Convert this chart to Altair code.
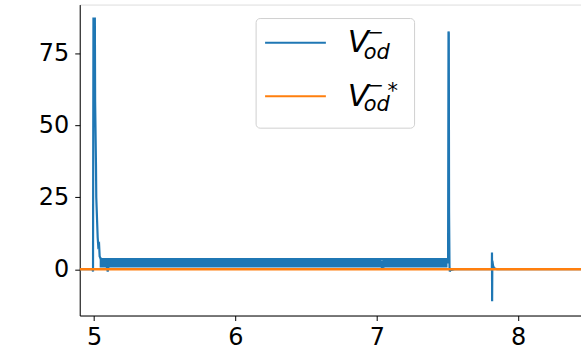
import altair as alt
import pandas as pd

# ---- data ----
blue_x = [4.899, 4.990, 4.993, 4.996, 5.006, 5.008, 5.014, 5.016, 5.026, 5.030,
          5.036, 5.040, 5.050, 5.055, 5.060, 5.070, 5.080, 5.090, 5.097, 5.105,
          5.110, 7.500, 7.504, 7.507, 7.509, 7.511, 7.514, 7.516, 7.520, 7.550,
          7.800, 7.8135, 7.8145, 7.8155, 7.817, 7.822, 7.830, 7.850, 8.450]
blue_y = [0.0, 0.0, -0.8, 87.0, 87.0, 58.0, 36.0, 25.0, 11.0, 8.0,
          8.5, 4.4, 3.5, 1.0, 3.2, 1.2, 3.4, 1.0, -0.8, 2.0,
          3.5, 3.5, 2.0, 82.5, 82.0, 20.0, 1.0, -0.8, -0.3, 0.0,
          0.0, 0.0, 5.8, -11.1, 3.0, 1.2, 0.3, 0.0, 0.0]

# dense oscillation band (envelope) of the blue series
band_x = [5.040, 7.025, 7.035, 7.045, 7.060, 7.500]
band_lo = [0.6, 0.6, 0.3, 0.4, 0.6, 0.6]
band_hi = [3.9, 3.9, 2.9, 3.3, 3.9, 3.9]

orange_x = [4.899, 8.450]
orange_y = [0.0, 0.0]

x_ticks = [5, 6, 7, 8]
y_ticks = [0, 25, 50, 75]
x_domain = [4.899, 8.444]
y_domain = [-16.08, 91.84]

BLUE = "#1f77b4"
ORANGE = "#ff7f0e"
FONT = "DejaVu Sans"

blue_df = pd.DataFrame({"x": blue_x, "y": blue_y})
band_df = pd.DataFrame({"x": band_x, "lo": band_lo, "hi": band_hi})
orange_df = pd.DataFrame({"x": orange_x, "y": orange_y})

xs = alt.Scale(domain=x_domain, nice=False, zero=False)
ys = alt.Scale(domain=y_domain, nice=False, zero=False)

x_axis = alt.Axis(values=x_ticks, format="d", grid=False, labelFontSize=24, labelFont=FONT,
                  labelColor="black", tickColor="black", domainColor="black",
                  tickSize=5, labelPadding=5, title=None, labelFlush=False)
y_axis = alt.Axis(values=y_ticks, format="d", grid=False, labelFontSize=24, labelFont=FONT,
                  labelColor="black", tickColor="black", domainColor="black",
                  tickSize=5, labelPadding=6, title=None, labelFlush=False)

band = alt.Chart(band_df).mark_area(color=BLUE, clip=True, opacity=1).encode(
    x=alt.X("x:Q", scale=xs, axis=x_axis),
    y=alt.Y("lo:Q", scale=ys, axis=y_axis),
    y2="hi:Q",
)

blue = alt.Chart(blue_df).mark_line(color=BLUE, strokeWidth=2.2, clip=True).encode(
    x=alt.X("x:Q", scale=xs),
    y=alt.Y("y:Q", scale=ys),
    order=alt.Order("x:Q"),
)

orange = alt.Chart(orange_df).mark_line(color=ORANGE, strokeWidth=2.4, clip=True).encode(
    x=alt.X("x:Q", scale=xs),
    y=alt.Y("y:Q", scale=ys),
)

# ---- legend ----
leg_box = alt.Chart(pd.DataFrame({"a": [0]})).mark_rect(
    fill="white", fillOpacity=0.8, stroke="#d0d0d0", strokeWidth=1, cornerRadius=4
).encode(x=alt.value(177), x2=alt.value(336), y=alt.value(14), y2=alt.value(124))

leg_blue = alt.Chart(pd.DataFrame({"a": [0]})).mark_rule(color=BLUE, strokeWidth=2.2).encode(
    x=alt.value(186), x2=alt.value(247), y=alt.value(38.3))
leg_orange = alt.Chart(pd.DataFrame({"a": [0]})).mark_rule(color=ORANGE, strokeWidth=2.2).encode(
    x=alt.value(186), x2=alt.value(247), y=alt.value(92))

def txt(s, x, y, size, baseline="alphabetic", align="left", italic=True):
    kw = dict(font=FONT, fontSize=size, color="black", align=align, baseline=baseline)
    if italic:
        kw["fontStyle"] = "italic"
    return alt.Chart(pd.DataFrame({"t": [s]})).mark_text(**kw).encode(
        text="t:N", x=alt.value(x), y=alt.value(y))

legend_texts = [
    txt("V", 269, 48, 31),
    txt("od", 285, 54.5, 21),
    txt("\u2212", 297, 28.5, 20, baseline="middle", align="center", italic=False),
    txt("V", 269, 101.5, 31),
    txt("od", 285, 107, 21),
    txt("\u2212", 297, 82, 20, baseline="middle", align="center", italic=False),
    txt("*", 314, 88, 21, baseline="middle", align="center", italic=False),
]

chart = alt.layer(band, blue, orange, leg_box, leg_blue, leg_orange, *legend_texts).properties(
    width=503, height=312,
    padding={"left": 80, "top": 4, "right": 0, "bottom": 38},
    autosize=alt.AutoSizeParams(type="none"),
).configure_view(stroke="black", strokeWidth=1).configure(background="white")

chart.save("out.html", embed_options={"renderer": "svg", "actions": False})
